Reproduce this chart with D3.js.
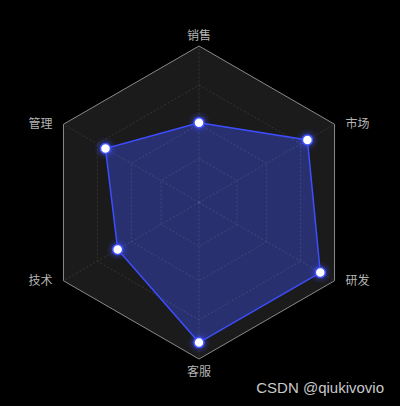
<!DOCTYPE html>
<html>
<head>
<meta charset="utf-8">
<script src="https://cdn.jsdelivr.net/npm/d3@7"></script>
<style>
  html, body { margin: 0; padding: 0; background: #000; }
  svg { display: block; }
</style>
</head>
<body>
<svg id="chart" width="400" height="406"></svg>
<script>
var axes = ["销售", "市场", "研发", "客服", "技术", "管理"];
var values = [51, 80, 89.5, 89.5, 60, 69];
var max_value = 100;
var grid_levels = [28, 50, 75, 100];

var cx = 199;
var cy = 202.5;
var radius = 156.5;

var svg = d3.select("svg#chart");

var defs = svg.append("defs");
var glow = defs.append("filter").attr("id", "glow")
    .attr("x", "-150%").attr("y", "-150%").attr("width", "400%").attr("height", "400%");
glow.append("feDropShadow").attr("dx", 0).attr("dy", 0)
    .attr("stdDeviation", 3).attr("flood-color", "#3d4cff").attr("flood-opacity", 1);

var r = d3.scaleLinear().domain([0, max_value]).range([0, radius]);
var angle = d3.scaleLinear().domain([0, axes.length]).range([0, 2 * Math.PI]);

function point(i, v) {
    var a = angle(i) - Math.PI / 2;
    return [cx + r(v) * Math.cos(a), cy + r(v) * Math.sin(a)];
}

function ring(v) {
    return axes.map(function (d, i) { return point(i, v); });
}

var line = d3.line().curve(d3.curveLinearClosed);
var g = svg.append("g");

/* background of the web */
g.append("path").attr("d", line(ring(max_value)))
    .attr("fill", "#1b1b1b").attr("stroke", "none");

/* data area, under the grid */
var pts = values.map(function (v, i) { return point(i, v); });
g.append("path").attr("d", line(pts))
    .attr("fill", "#29306f").attr("stroke", "none");

/* radial axes + inner dashed rings */
var grid_color = "rgba(255,255,255,0.11)";
g.selectAll("line.axis").data(axes).enter().append("line")
    .attr("class", "axis")
    .attr("x1", cx).attr("y1", cy)
    .attr("x2", function (d, i) { return point(i, max_value)[0]; })
    .attr("y2", function (d, i) { return point(i, max_value)[1]; })
    .attr("stroke", grid_color).attr("stroke-width", 1)
    .attr("stroke-dasharray", "2,2");

g.selectAll("path.level").data(grid_levels.slice(0, -1)).enter().append("path")
    .attr("class", "level")
    .attr("d", function (d) { return line(ring(d)); })
    .attr("fill", "none").attr("stroke", grid_color).attr("stroke-width", 1)
    .attr("stroke-dasharray", "2,2");

g.append("path").attr("d", line(pts))
    .attr("fill", "none").attr("stroke", "#3d4eff").attr("stroke-width", 1.5);

/* outer border */
g.append("path").attr("d", line(ring(max_value)))
    .attr("fill", "none").attr("stroke", "#8a8a8a").attr("stroke-width", 1);

/* points */
g.selectAll("circle.pt").data(values).enter().append("circle")
    .attr("class", "pt")
    .attr("cx", function (d, i) { return point(i, d)[0]; })
    .attr("cy", function (d, i) { return point(i, d)[1]; })
    .attr("r", 5)
    .attr("fill", "#fff").attr("stroke", "#4152ff").attr("stroke-width", 1.5)
    .attr("filter", "url(#glow)");

/* axis names */
g.selectAll("text.name").data(axes).enter().append("text")
    .attr("class", "name")
    .attr("x", function (d, i) {
        var p = point(i, max_value);
        var dx = p[0] - cx;
        if (Math.abs(dx) < 1) return p[0];
        return dx > 0 ? p[0] + 11 : p[0] - 11;
    })
    .attr("y", function (d, i) {
        var p = point(i, max_value);
        var dy = p[1] - cy;
        var dx = p[0] - cx;
        if (Math.abs(dx) < 1) return dy < 0 ? p[1] - 6 : p[1] + 17;
        return p[1] + 4;
    })
    .attr("text-anchor", function (d, i) {
        var dx = point(i, max_value)[0] - cx;
        if (Math.abs(dx) < 1) return "middle";
        return dx > 0 ? "start" : "end";
    })
    .attr("font-family", "'Noto Sans CJK SC', sans-serif")
    .attr("font-size", 12)
    .attr("fill", "#b4b4b4")
    .text(function (d) { return d; });

/* watermark */
svg.append("text").attr("x", 384).attr("y", 393)
    .attr("text-anchor", "end")
    .attr("font-family", "'Liberation Sans', Arial, sans-serif")
    .attr("font-size", 15)
    .attr("fill", "#c8c8c8")
    .text("CSDN @qiukivovio");
</script>
</body>
</html>
